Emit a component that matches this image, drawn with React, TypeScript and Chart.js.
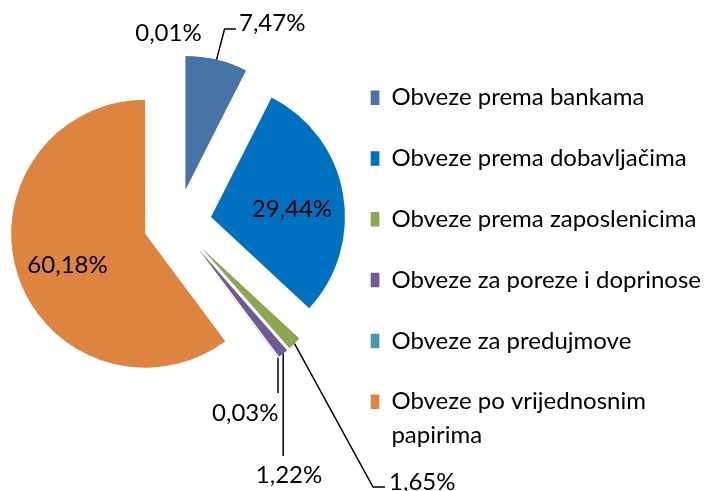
import React, { useEffect, useRef } from 'react';
import { Chart, registerables } from 'chart.js';

Chart.register(...registerables);

// ---------- data ----------
const categories = [
  'Obveze prema bankama',
  'Obveze prema dobavljačima',
  'Obveze prema zaposlenicima',
  'Obveze za poreze i doprinose',
  'Obveze za predujmove',
  'Obveze po vrijednosnim papirima',
  '',
];
const shares = [7.47, 29.44, 1.65, 1.22, 0.03, 60.18, 0.01];
const colors = ['#4673A8', '#0070C0', '#8BA750', '#735993', '#4599AF', '#DD8540', '#9DB0D3'];

// ---------- style / layout ----------
const W = 711;
const H = 491;
const FONT_FAMILY = 'Lato, "Noto Sans", sans-serif';
const FS = 24;
const LEGEND_LINE = 33.3;
const LEGEND_PAD = -5.8;
const BOX = 14.5;
const LEGEND_BOX_X = 369;
const LEGEND_FIRST_CY = 97.7;
const CX = 177.5;
const CY = 223;
const RADIUS = 134;
const EXPLODE = 34;

type LabelStyle = {
  mode: 'in' | 'out';
  align: CanvasTextAlign;
  dx: number;
  dy: number;
  leader?: number[][];
};
const labelStyles: LabelStyle[] = [
  { mode: 'out', align: 'left', dx: 22.4, dy: -29, leader: [[8, -30.6], [19.4, -30.6]] },
  { mode: 'in', align: 'center', dx: 1.8, dy: 14.1 },
  { mode: 'out', align: 'left', dx: 94.5, dy: 146, leader: [[78.5, 143.5], [90.5, 143.5]] },
  { mode: 'out', align: 'center', dx: 5.8, dy: 129.4, leader: [[0, 102.4]] },
  { mode: 'out', align: 'right', dx: 0.5, dy: 63.4, leader: [[0, 35.4]] },
  { mode: 'in', align: 'center', dx: -1.4, dy: 14 },
  { mode: 'out', align: 'center', dx: -9, dy: -14 },
];

function fmt(v: number) {
  return v.toFixed(2).replace('.', ',') + '%';
}

function wrap(ctx: CanvasRenderingContext2D, text: string, maxW: number): string[] {
  const words = text.split(' ');
  const lines: string[] = [];
  let cur = '';
  for (const w of words) {
    const t = cur ? cur + ' ' + w : w;
    if (cur && ctx.measureText(t).width > maxW) {
      lines.push(cur);
      cur = w;
    } else {
      cur = t;
    }
  }
  lines.push(cur);
  return lines;
}

// explode every slice along its bisector, around the pie centre
const explodePlugin = {
  id: 'explode',
  afterDatasetUpdate(_chart: any, args: any) {
    args.meta.data.forEach((arc: any) => {
      const mid = (arc.startAngle + arc.endAngle) / 2;
      arc.x = CX + Math.cos(mid) * EXPLODE;
      arc.y = CY + Math.sin(mid) * EXPLODE;
    });
  },
};

const labelPlugin = {
  id: 'pieLabels',
  afterDatasetsDraw(chart: any) {
    const ctx: CanvasRenderingContext2D = chart.ctx;
    const meta = chart.getDatasetMeta(0);
    const data = chart.data.datasets[0].data as number[];
    const total = data.reduce((a, b) => a + b, 0);
    ctx.save();
    ctx.font = `${FS}px ${FONT_FAMILY}`;
    ctx.fillStyle = '#000';
    ctx.strokeStyle = '#000';
    ctx.lineWidth = 1.5;
    ctx.textBaseline = 'alphabetic';
    meta.data.forEach((arc: any, i: number) => {
      const st = labelStyles[i];
      const mid = (arc.startAngle + arc.endAngle) / 2;
      const r = arc.outerRadius;
      const c = Math.cos(mid);
      const s = Math.sin(mid);
      let ax: number;
      let ay: number;
      if (st.mode === 'in') {
        ax = arc.x + c * r * 0.6;
        ay = arc.y + s * r * 0.6;
      } else {
        ax = arc.x + c * r;
        ay = arc.y + s * r;
        if (st.leader) {
          ctx.beginPath();
          ctx.moveTo(ax, ay);
          st.leader.forEach(([lx, ly]) => ctx.lineTo(ax + lx, ay + ly));
          ctx.stroke();
        }
      }
      ctx.textAlign = st.align;
      ctx.fillText(fmt((data[i] / total) * 100), ax + st.dx, ay + st.dy);
    });
    ctx.restore();
  },
};

export default function App() {
  const ref = useRef<HTMLCanvasElement>(null);

  useEffect(() => {
    const canvas = ref.current!;
    const m = document.createElement('canvas').getContext('2d')!;
    m.font = `${FS}px ${FONT_FAMILY}`;
    const textStart = LEGEND_BOX_X + BOX + FS / 2;
    const avail = W - textStart;
    const wrapped = categories.map((c) => wrap(m, c, avail));
    let maxLine = 0;
    wrapped.forEach((ls, i) => {
      if (!categories[i]) return;
      ls.forEach((l) => (maxLine = Math.max(maxLine, m.measureText(l).width)));
    });
    const colWidth = BOX + FS / 2 + maxLine;
    let padRight = Math.max(0, W - LEGEND_BOX_X - colWidth - 10);
    const shown = categories.filter((c) => c !== '').length;
    const colHeight = shown * (2 * LEGEND_LINE + LEGEND_PAD);
    const legendBottom = LEGEND_FIRST_CY - FS / 2 + colHeight;
    const padBottom = H - legendBottom;

    Chart.defaults.color = '#000';
    const chart: any = new Chart(canvas, {
      type: 'pie',
      data: {
        labels: categories,
        datasets: [
          {
            data: shares,
            backgroundColor: colors,
            borderWidth: 0,
          },
        ],
      },
      options: {
        responsive: false,
        animation: false,
        devicePixelRatio: 1,
        radius: RADIUS,
        layout: { padding: { left: 0, right: padRight, top: 0, bottom: padBottom } },
        plugins: {
          tooltip: { enabled: false },
          legend: {
            position: 'right',
            align: 'end',
            labels: {
              boxWidth: BOX,
              boxHeight: BOX,
              padding: LEGEND_PAD,
              color: '#000',
              font: { family: FONT_FAMILY, size: FS, lineHeight: LEGEND_LINE / FS },
              generateLabels: () =>
                categories
                  .map((c, i) => ({
                    text: wrapped[i].length > 1 ? wrapped[i] : [wrapped[i][0], ''],
                    fillStyle: colors[i],
                    strokeStyle: colors[i],
                    lineWidth: 0,
                    hidden: false,
                    index: i,
                    fontColor: '#000',
                  }))
                  .filter((_it, i) => categories[i] !== ''),
            },
          },
        },
      } as any,
      plugins: [explodePlugin, labelPlugin],
    });

    // fine-tune legend placement to the intended box x
    for (let k = 0; k < 3; k++) {
      const hb = chart.legend && chart.legend.legendHitBoxes && chart.legend.legendHitBoxes[0];
      if (!hb) break;
      const diff = hb.left - LEGEND_BOX_X;
      if (Math.abs(diff) < 0.5) break;
      padRight = Math.max(0, padRight + diff);
      chart.options.layout.padding.right = padRight;
      chart.update();
    }
    return () => chart.destroy();
  }, []);

  return (
    <div style={{ position: 'fixed', left: 0, top: 0, width: W, height: H, background: '#fff' }}>
      <canvas ref={ref} width={W} height={H} style={{ display: 'block', width: W, height: H }} />
    </div>
  );
}
